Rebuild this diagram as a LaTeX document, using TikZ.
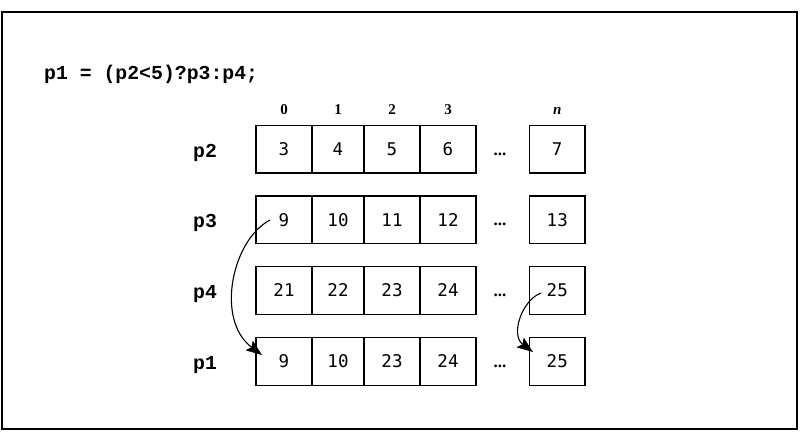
\documentclass[tikz,border=0pt]{standalone}
\usepackage{fontspec}
\setmainfont{Liberation Serif}
\newfontfamily\codefont{Liberation Mono}
\newfontfamily\cellfont{DejaVu Sans Mono}
\usetikzlibrary{arrows.meta}
\begin{document}
\begin{tikzpicture}[x=1pt,y=-1pt,
  cell/.style={draw,line width=1.2pt,inner sep=0pt,outer sep=0pt,minimum height=47.5pt,
    font=\cellfont\fontsize{17.5}{18}\selectfont},
  rowlab/.style={inner sep=0pt,anchor=base,font=\codefont\bfseries\fontsize{19.8}{20}\selectfont},
  idx/.style={inner sep=0pt,anchor=base,font=\bfseries\fontsize{15}{16}\selectfont},
  dotsl/.style={inner sep=0pt,anchor=base,font=\bfseries\fontsize{17}{18}\selectfont},
  arr/.style={line width=1.1pt,-{Stealth[length=16pt,width=12pt,inset=3pt]}}]
\useasboundingbox (0,0) rectangle (802,432);
\draw[line width=1.5pt] (2,12) rectangle (797,429);
\node[inner sep=0pt,anchor=base west,font=\codefont\bfseries\fontsize{19.8}{20}\selectfont] (code) at (44,79) {p1 = (p2<5)?p3:p4;};
\node[idx] (i0) at (284,114) {0};
\node[idx] (i1) at (338,114) {1};
\node[idx] (i2) at (392,114) {2};
\node[idx] (i3) at (448,114) {3};
\node[idx] (in) at (557.25,114) {\itshape n};
\foreach \r/\y/\a/\b/\c/\d/\n in {p2/125.5/3/4/5/6/7, p3/196/9/10/11/12/13, p4/266.7/21/22/23/24/25, p1/337.7/9/10/23/24/25}{
  \node[rowlab] (\r lab) at (205,{\y+23.75+8}) {\r};
  \node[cell,minimum width=56pt] (\r c0) at (284,{\y+23.75}) {\a};
  \node[cell,minimum width=52pt] (\r c1) at (338,{\y+23.75}) {\b};
  \node[cell,minimum width=56pt] (\r c2) at (392,{\y+23.75}) {\c};
  \node[cell,minimum width=56pt] (\r c3) at (448,{\y+23.75}) {\d};
  \node[cell,minimum width=55.5pt] (\r cn) at (557.25,{\y+23.75}) {\n};
  \node[dotsl] (\r dots) at (500,{\y+23.75+6}) {...};
}
\coordinate (s1) at (270,220);
\coordinate (e1) at (262,355);
\coordinate (s2) at (541,293);
\coordinate (e2) at (533,352);
\draw[arr] (s1) .. controls +(-38,20) and +(-47,-35) .. (e1);
\draw[arr] (s2) .. controls +(-19,7) and +(-23,-17) .. (e2);
\end{tikzpicture}
\end{document}
